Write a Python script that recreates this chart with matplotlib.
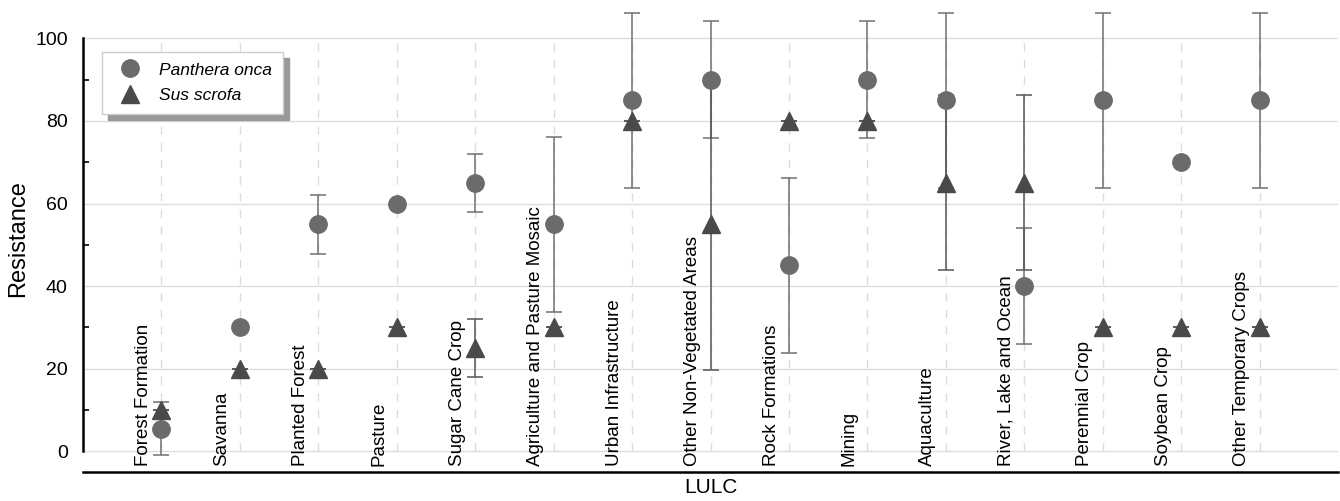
import matplotlib
matplotlib.use('Agg')
import matplotlib.pyplot as plt
from matplotlib.patches import Rectangle

plt.rcParams['font.family'] = ['Liberation Sans', 'DejaVu Sans']

categories = ['Forest Formation', 'Savanna', 'Planted Forest', 'Pasture', 'Sugar Cane Crop',
              'Agriculture and Pasture Mosaic', 'Urban Infrastructure', 'Other Non-Vegetated Areas',
              'Rock Formations', 'Mining', 'Aquaculture', 'River, Lake and Ocean',
              'Perennial Crop', 'Soybean Crop', 'Other Temporary Crops']

onca_mean = [5.5, 30, 55, 60, 65, 55, 85, 90, 45, 90, 85, 40, 85, 70, 85]
onca_sd = [6.4, 0, 7.1, 0, 7.1, 21.2, 21.2, 14.1, 21.2, 14.1, 21.2, 14.1, 21.2, 0, 21.2]
scrofa_mean = [10, 20, 20, 30, 25, 30, 80, 55, 80, 80, 65, 65, 30, 30, 30]
scrofa_sd = [0, 0, 0, 0, 7.1, 0, 0, 35.4, 0, 0, 21.2, 21.2, 0, 0, 0]

yticks = [0, 20, 40, 60, 80, 100]
minor_ticks = [10, 30, 50, 70, 90]

x = list(range(len(categories)))

fig = plt.figure(figsize=(13.4, 5.01), dpi=100)
ax = fig.add_axes([83 / 1340, 29 / 501, 1255 / 1340, 466.7 / 501])

ax.set_xlim(-1, len(categories))
ax.set_ylim(-5, 108)

# grid
ax.set_yticks(yticks)
ax.set_yticks(minor_ticks, minor=True)
ax.grid(axis='y', which='major', color='#dddddd', lw=1)
ax.vlines(x, 0, 100, colors='#dcdcdc', linestyles=(0, (6, 6)), lw=1, zorder=1)
ax.set_axisbelow(True)

ax.errorbar(x, onca_mean, yerr=onca_sd, fmt='o', ms=12.5, color='#6b6b6b', mec='#6b6b6b',
            ecolor='#707070', elinewidth=1.1, capsize=6, capthick=1.1, zorder=3,
            label='Panthera onca')
ax.errorbar(x, scrofa_mean, yerr=scrofa_sd, fmt='^', ms=13.5, color='#4a4a4a', mec='#4a4a4a',
            ecolor='#555555', elinewidth=1.1, capsize=6, capthick=1.1, zorder=3,
            label='Sus scrofa')

for i, cat in enumerate(categories):
    ax.text(i - 0.12, -3.6, cat, rotation=90, ha='right', va='bottom', fontsize=13.5)

ax.spines['top'].set_visible(False)
ax.spines['right'].set_visible(False)
ax.spines['left'].set_bounds(0, 100)
ax.spines['left'].set_linewidth(1.8)
ax.spines['bottom'].set_linewidth(1.8)

ax.set_xticks([])
ax.tick_params(axis='y', which='major', length=0, pad=11, labelsize=14)
ax.tick_params(axis='y', which='minor', direction='in', length=4, width=1.2)

ax.set_xlabel('LULC', fontsize=15, labelpad=4)
ax.set_ylabel('Resistance', fontsize=17, labelpad=4)

handles, labels = ax.get_legend_handles_labels()
handles = [h[0] for h in handles]
leg = ax.legend(handles, labels, loc='upper left', bbox_to_anchor=(102 / 1340, 1 - 52 / 501),
                bbox_transform=fig.transFigure, borderaxespad=0, frameon=True, fancybox=False,
                framealpha=1, borderpad=0.6, handlelength=2.0, handletextpad=0.7,
                labelspacing=0.6, prop={'style': 'italic', 'size': 12.5})
leg.get_frame().set_edgecolor('#cccccc')
leg.get_frame().set_facecolor('white')
leg.get_frame().set_linewidth(1)
leg.set_zorder(6)

# drop shadow behind the legend
fig.canvas.draw()
bb = leg.get_window_extent().transformed(fig.transFigure.inverted())
sh = Rectangle((bb.x0 + 6 / 1340, bb.y0 - 6 / 501), bb.width, bb.height,
               transform=fig.transFigure, color='#999999', zorder=5.5, clip_on=False)
ax.add_patch(sh)

fig.savefig('out.png', dpi=100)
